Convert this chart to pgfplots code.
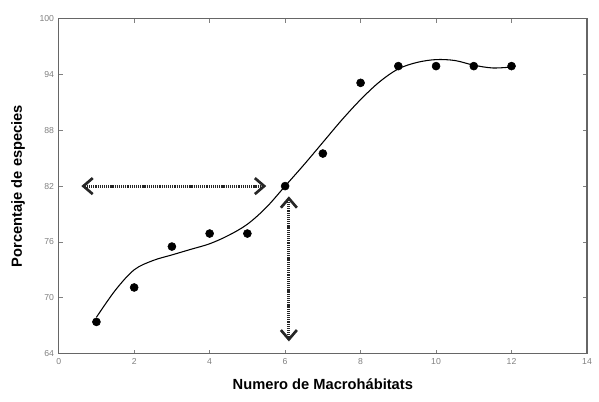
\documentclass[border=0pt]{standalone}
\usepackage{pgfplots}
\pgfplotsset{compat=1.18}
\usepackage{fontspec}
\setmainfont{Liberation Sans}
\usetikzlibrary{arrows.meta}

\begin{document}
\begin{tikzpicture}
\begin{axis}[
    scale only axis,
    width=396pt, height=251pt,
    xmin=0, xmax=14, ymin=64, ymax=100,
    xtick={0,2,...,14}, ytick={64,70,...,100},
    tick align=inside,
    tick style={gray, line width=0.6pt},
    major tick length=3pt,
    axis line style={gray!80!black, line width=0.8pt},
    tick label style={font=\fontsize{6.5}{7}\selectfont, text=gray},
    /pgf/number format/assume math mode=true,
    xlabel={\textbf{Numero de Macrohábitats}},
    ylabel={\textbf{Porcentaje de especies}},
    label style={font=\fontsize{11}{13}\selectfont},
    xlabel style={yshift=-4pt},
    ylabel style={yshift=4pt},
    clip=false,
]
% fitted curve
\addplot[black, line width=0.8pt, smooth, tension=0.55] coordinates {
  (1,67.9) (1.5,70.8) (2,73.0) (2.5,74.0) (3,74.6) (3.5,75.2) (4,75.8)
  (4.5,76.7) (5,77.9) (5.5,79.7) (6,82.0) (6.5,84.3) (7,86.7) (7.5,89.1)
  (8,91.3) (8.5,93.2) (9,94.6) (9.5,95.3) (10,95.6) (10.5,95.5) (11,95.0)
  (11.5,94.7) (12,94.8)
};
% observed points
\addplot[only marks, mark=*, mark size=3pt, black] coordinates {
  (1,67.4) (2,71.1) (3,75.5) (4,76.9) (5,76.9) (6,82.0)
  (7,85.5) (8,93.1) (9,94.9) (10,94.9) (11,94.9) (12,94.9)
};
% guide arrows
\addplot[black!85, line width=2.2pt, dash pattern=on 0.9pt off 0.7pt,
  {Straight Barb[length=7pt,width=12pt,line width=2pt]}-{Straight Barb[length=7pt,width=12pt,line width=2pt]}]
  coordinates {(0.6,82) (5.5,82)};
\addplot[black!85, line width=2.2pt, dash pattern=on 0.9pt off 0.7pt,
  {Straight Barb[length=7pt,width=12pt,line width=2pt]}-{Straight Barb[length=7pt,width=12pt,line width=2pt]}]
  coordinates {(6.1,80.9) (6.1,65.3)};
\path (rel axis cs:0,0) ++(-44pt,-36pt) coordinate (bl);
\path (rel axis cs:1,1) ++(9pt,14pt) coordinate (tr);
\end{axis}
\useasboundingbox (bl) rectangle (tr);
\end{tikzpicture}
\end{document}
